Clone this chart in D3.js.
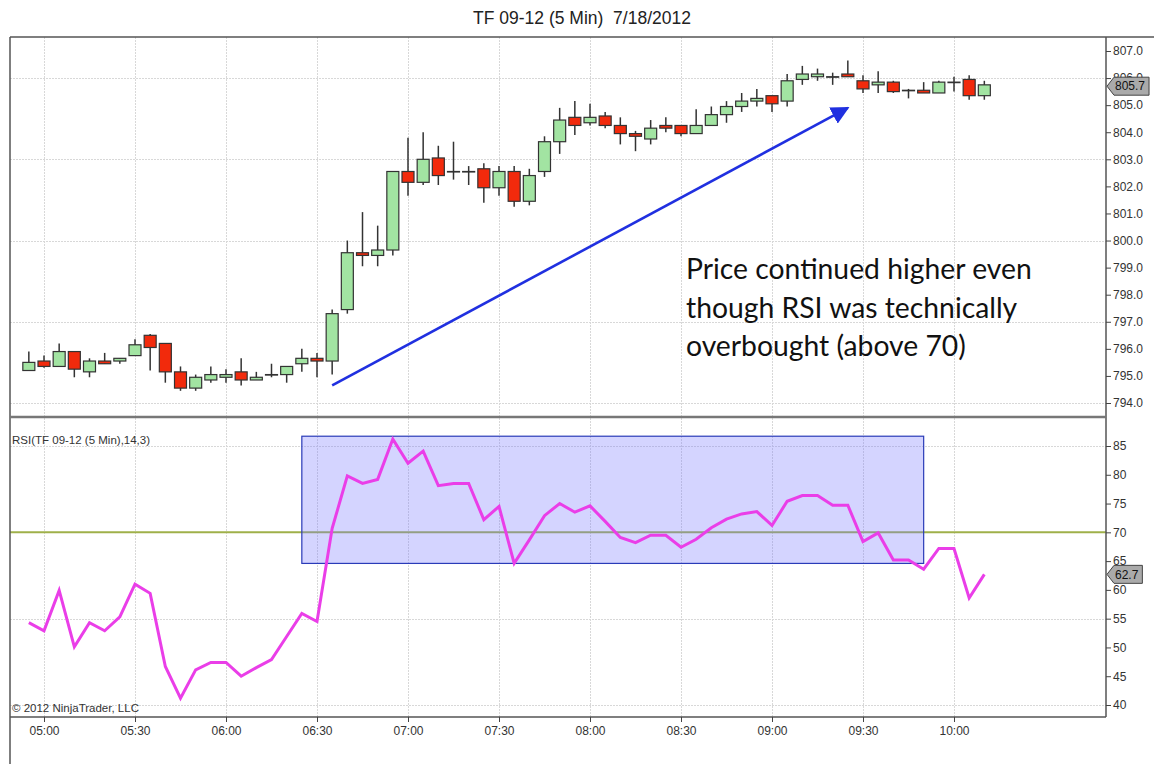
<!DOCTYPE html>
<html>
<head>
<meta charset="utf-8">
<script src="https://cdn.jsdelivr.net/npm/d3@7"></script>
<style>
  body { margin: 0; background: #fff; }
  svg text { font-family: Arial, "Liberation Sans", sans-serif; }
</style>
</head>
<body>
<div id="chart"></div>
<script>
// 5 min bars, TF 09-12, 7/18/2012
const times = ["04:55","05:00","05:05","05:10","05:15","05:20","05:25","05:30","05:35","05:40",
  "05:45","05:50","05:55","06:00","06:05","06:10","06:15","06:20","06:25","06:30",
  "06:35","06:40","06:45","06:50","06:55","07:00","07:05","07:10","07:15","07:20",
  "07:25","07:30","07:35","07:40","07:45","07:50","07:55","08:00","08:05","08:10",
  "08:15","08:20","08:25","08:30","08:35","08:40","08:45","08:50","08:55","09:00",
  "09:05","09:10","09:15","09:20","09:25","09:30","09:35","09:40","09:45","09:50",
  "09:55","10:00","10:05","10:10"]
const opens = [795.2,795.55,795.35,795.9,795.15,795.55,795.55,795.75,796.5,796.2,
  795.15,794.55,794.85,794.95,795.15,794.85,795.05,795.05,795.45,795.65,
  795.55,797.45,799.55,799.45,799.65,802.55,802.15,803.05,802.55,802.55,
  802.65,801.95,802.55,801.45,802.55,803.65,804.55,804.35,804.6,804.25,
  803.95,803.75,804.25,804.25,803.95,804.25,804.65,804.95,805.15,805.35,
  805.15,805.95,806.05,806.05,806.15,805.9,805.75,805.85,805.55,805.55,
  805.45,805.85,805.95,805.35]
const highs = [795.9,795.75,796.2,795.9,795.65,795.85,795.65,796.35,796.55,796.2,
  795.35,795.05,795.35,795.25,795.65,795.15,795.45,795.35,796.0,795.85,
  797.45,800.0,801.05,800.55,802.55,803.8,804.0,803.5,803.65,802.75,
  802.85,802.75,802.75,802.65,803.85,804.9,805.15,805.05,804.75,804.55,
  804.05,804.45,804.55,804.25,804.85,804.95,805.15,805.45,805.6,805.35,
  806.15,806.45,806.35,806.2,806.65,806.1,806.25,805.9,805.6,805.85,
  805.9,806.05,806.1,805.9]
const lows = [795.2,795.3,795.35,794.95,794.95,795.45,795.45,795.75,795.2,794.75,
  794.45,794.45,794.75,794.75,794.65,794.85,794.95,794.75,795.15,794.95,
  795.05,797.3,799.05,799.05,799.45,801.65,802.05,802.05,802.25,802.05,
  801.4,801.65,801.25,801.3,802.35,803.2,803.9,804.25,804.15,803.55,
  803.3,803.55,804.0,803.85,803.95,804.25,804.35,804.75,804.95,804.75,
  804.95,805.75,805.9,805.75,806.05,805.45,805.45,805.45,805.25,805.45,
  805.45,805.5,805.2,805.2]
const closes = [795.5,795.35,795.9,795.25,795.55,795.45,795.65,796.15,796.05,795.15,
  794.55,794.95,795.05,795.05,794.85,794.95,795.05,795.35,795.65,795.55,
  797.3,799.55,799.45,799.65,802.55,802.15,803.0,802.4,802.55,802.55,
  801.95,802.55,801.45,802.4,803.65,804.45,804.25,804.55,804.25,803.95,
  803.85,804.15,804.15,803.95,804.25,804.65,804.95,805.15,805.25,805.05,
  805.9,806.15,806.15,806.05,806.05,805.6,805.85,805.5,805.55,805.45,
  805.85,805.85,805.35,805.75]
const rsi = [54.3,52.9,59.9,50.1,54.3,52.9,55.3,61.0,59.4,46.7,
  41.2,46.1,47.4,47.4,45.0,46.5,47.9,51.9,55.9,54.5,
  70.7,79.8,78.5,79.2,86.2,82.0,84.1,78.1,78.5,78.5,
  72.2,74.5,64.6,68.7,72.9,75.0,73.5,74.6,71.9,69.1,
  68.2,69.5,69.5,67.4,68.8,70.8,72.3,73.2,73.6,71.2,
  75.4,76.4,76.4,74.7,74.7,68.4,69.9,65.2,65.2,63.6,
  67.2,67.2,58.6,62.7]

const timeTicks = ["05:00","05:30","06:00","06:30","07:00","07:30","08:00","08:30","09:00","09:30","10:00"]
const priceTicks = [794,795,796,797,798,799,800,801,802,803,804,805,806,807]
const priceGrid = [794,797,800,803,806]
const rsiTicks = [40,45,50,55,60,65,70,75,80,85]
const rsiGrid = [40,55,85]
const rsiLevel = 70
const lastPrice = 805.7
const lastRsi = 62.7

// drawings on the chart
const arrowFrom = ["06:35", 794.65]
const arrowTo = ["09:25", 804.9]
const boxTimes = ["06:25", "09:50"]
const boxRsi = [64.6, 86.7]
const noteLines = ["Price continued higher even", "though RSI was technically", "overbought (above 70)"]

const W = 1154, H = 764
const L = 10, R = 1106, TOP = 37, SEP = 417, BOT = 717

const parseTime = d3.timeParse("%H:%M")
const bars = times.map((t, i) => ({t: parseTime(t), o: opens[i], h: highs[i], l: lows[i], c: closes[i], r: rsi[i]}))

const x = d3.scaleTime().domain([parseTime("05:00"), parseTime("10:00")]).range([44, 954])
const yP = d3.scaleLinear().domain([794, 807]).range([403, 51])
const yR = d3.scaleLinear().domain([40, 85]).range([705, 446])

const svg = d3.select('#chart').append('svg')
  .attr('width', W).attr('height', H)
  .style('display', 'block')

svg.append('rect').attr('width', W).attr('height', H).attr('fill', '#fff')

const defs = svg.append('defs')
defs.append('clipPath').attr('id', 'clipP')
  .append('rect').attr('x', L).attr('y', TOP).attr('width', R - L).attr('height', SEP - TOP)
defs.append('clipPath').attr('id', 'clipR')
  .append('rect').attr('x', L).attr('y', SEP).attr('width', R - L).attr('height', BOT - SEP)
defs.append('marker').attr('id', 'arrowHead')
  .attr('viewBox', '0 0 10 10').attr('refX', 9).attr('refY', 5)
  .attr('markerWidth', 7).attr('markerHeight', 7).attr('markerUnits', 'strokeWidth')
  .attr('orient', 'auto')
  .append('path').attr('d', 'M0,0 L10,5 L0,10 z').attr('fill', '#2030e0')

// title
svg.append('text')
  .attr('x', 582).attr('y', 24)
  .attr('text-anchor', 'middle')
  .attr('font-size', 17.5).attr('fill', '#222')
  .style('white-space', 'pre')
  .text('TF 09-12 (5 Min)  7/18/2012')

// grid lines
const grid = svg.append('g').attr('stroke', '#d8d8d8').attr('stroke-width', 1).attr('stroke-dasharray', '2,1')
grid.selectAll('line.v').data(timeTicks).join('line')
  .attr('x1', d => Math.round(x(parseTime(d))) + 0.5).attr('x2', d => Math.round(x(parseTime(d))) + 0.5)
  .attr('y1', TOP).attr('y2', BOT)
grid.selectAll('line.hp').data(priceGrid).join('line').attr('class', 'hp')
  .attr('x1', L).attr('x2', R)
  .attr('y1', d => Math.round(yP(d)) + 0.5).attr('y2', d => Math.round(yP(d)) + 0.5)
grid.selectAll('line.hr').data(rsiGrid).join('line').attr('class', 'hr')
  .attr('x1', L).attr('x2', R)
  .attr('y1', d => Math.round(yR(d)) + 0.5).attr('y2', d => Math.round(yR(d)) + 0.5)

// ---- price panel
const pricePanel = svg.append('g').attr('clip-path', 'url(#clipP)')
const bodyW = 12

const candles = pricePanel.selectAll('g.candle').data(bars).join('g').attr('class', 'candle')
candles.append('line')
  .attr('x1', d => x(d.t)).attr('x2', d => x(d.t))
  .attr('y1', d => yP(d.h)).attr('y2', d => yP(d.l))
  .attr('stroke', '#333').attr('stroke-width', 1.5)
candles.append('rect')
  .attr('x', d => x(d.t) - bodyW / 2)
  .attr('y', d => yP(Math.max(d.o, d.c)))
  .attr('width', bodyW)
  .attr('height', d => Math.max(0.5, Math.abs(yP(d.o) - yP(d.c))))
  .attr('fill', d => d.c > d.o ? '#a2e4a2' : (d.c < d.o ? '#f22a0c' : '#333'))
  .attr('stroke', '#333').attr('stroke-width', 1.2)

pricePanel.append('line')
  .attr('x1', x(parseTime(arrowFrom[0]))).attr('y1', yP(arrowFrom[1]))
  .attr('x2', x(parseTime(arrowTo[0]))).attr('y2', yP(arrowTo[1]))
  .attr('stroke', '#2030e0').attr('stroke-width', 2.6)
  .attr('marker-end', 'url(#arrowHead)')

const note = svg.append('text')
  .attr('x', 686).attr('y', 279)
  .attr('font-size', 28.3).attr('fill', '#111')
  .style('font-family', 'Lato, "Open Sans", sans-serif')
note.selectAll('tspan').data(noteLines).join('tspan')
  .attr('x', 686).attr('dy', (d, i) => i === 0 ? 0 : 38.5)
  .text(d => d)

// ---- rsi panel
const rsiPanel = svg.append('g').attr('clip-path', 'url(#clipR)')

rsiPanel.append('line')
  .attr('x1', L).attr('x2', R)
  .attr('y1', yR(rsiLevel)).attr('y2', yR(rsiLevel))
  .attr('stroke', '#9fb04a').attr('stroke-width', 2)

rsiPanel.append('rect')
  .attr('x', x(parseTime(boxTimes[0]))).attr('y', yR(boxRsi[1]))
  .attr('width', x(parseTime(boxTimes[1])) - x(parseTime(boxTimes[0])))
  .attr('height', yR(boxRsi[0]) - yR(boxRsi[1]))
  .attr('fill', 'rgba(120,120,255,0.32)')
  .attr('stroke', '#2a3bb8').attr('stroke-width', 1.2)

const rsiLine = d3.line().x(d => x(d.t)).y(d => yR(d.r))
rsiPanel.append('path').datum(bars)
  .attr('d', rsiLine)
  .attr('fill', 'none').attr('stroke', '#ea3ee8').attr('stroke-width', 3)
  .attr('stroke-linejoin', 'miter')

svg.append('text').attr('x', 12).attr('y', 444)
  .attr('font-size', 11.5).attr('fill', '#333')
  .text('RSI(TF 09-12 (5 Min),14,3)')
svg.append('text').attr('x', 12).attr('y', 712)
  .attr('font-size', 11.5).attr('fill', '#333')
  .text('\u00a9 2012 NinjaTrader, LLC')

// ---- frame
const frame = svg.append('g').attr('stroke', '#555').attr('fill', 'none')
frame.append('line').attr('x1', L).attr('x2', W).attr('y1', TOP).attr('y2', TOP).attr('stroke-width', 1.5)
frame.append('line').attr('x1', L).attr('x2', L).attr('y1', TOP).attr('y2', H).attr('stroke-width', 1.5)
frame.append('line').attr('x1', R).attr('x2', R).attr('y1', TOP).attr('y2', BOT).attr('stroke-width', 1.5)
frame.append('line').attr('x1', L).attr('x2', R).attr('y1', SEP).attr('y2', SEP).attr('stroke', '#777').attr('stroke-width', 2.5)
frame.append('line').attr('x1', L).attr('x2', R).attr('y1', BOT).attr('y2', BOT).attr('stroke-width', 1.5)

// ---- axes
function styleAxis(g) {
  g.select('.domain').remove()
  g.selectAll('.tick line').attr('stroke', '#444')
  g.selectAll('.tick text').attr('fill', '#333').attr('font-size', 12)
    .style('font-family', 'Arial, "Liberation Sans", sans-serif')
}

svg.append('g').attr('transform', `translate(${R},0)`)
  .call(d3.axisRight(yP).tickValues(priceTicks).tickFormat(d3.format('.1f')).tickSize(5).tickPadding(2))
  .call(styleAxis)
svg.append('g').attr('transform', `translate(${R},0)`)
  .call(d3.axisRight(yR).tickValues(rsiTicks).tickFormat(d3.format('d')).tickSize(5).tickPadding(2))
  .call(styleAxis)
svg.append('g').attr('transform', `translate(0,${BOT})`)
  .call(d3.axisBottom(x).tickValues(timeTicks.map(parseTime)).tickFormat(d3.timeFormat('%H:%M')).tickSize(5).tickPadding(4))
  .call(styleAxis)

// last value markers
function lastMarker(yPos, label) {
  const g = svg.append('g').attr('transform', `translate(${R + 1},${yPos})`)
  const t = g.append('text').attr('x', 8).attr('dy', '0.35em')
    .attr('font-size', 12).attr('fill', '#111').text(label)
  const w = t.node().getComputedTextLength() + 12
  g.insert('path', 'text')
    .attr('d', `M0,0 L7,-9 L${w},-9 L${w},9 L7,9 Z`)
    .attr('fill', '#aaa').attr('stroke', '#444').attr('stroke-width', 1)
}
lastMarker(yP(lastPrice), d3.format('.1f')(lastPrice))
lastMarker(yR(lastRsi), d3.format('.1f')(lastRsi))
</script>
</body>
</html>
